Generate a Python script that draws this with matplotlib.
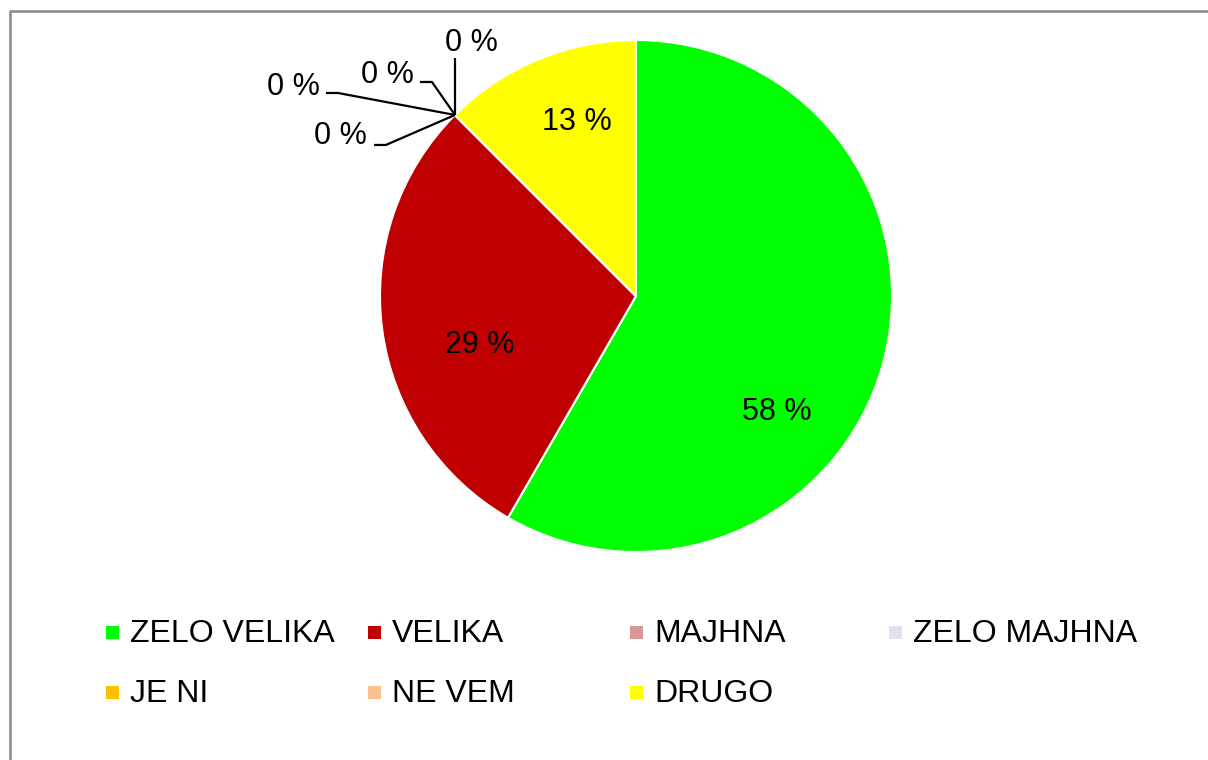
import matplotlib.pyplot as plt
import numpy as np
from matplotlib.patches import Rectangle
from matplotlib.lines import Line2D

plt.rcParams['font.family'] = ['Liberation Sans', 'DejaVu Sans']

# Podatki
kategorije = ['ZELO VELIKA', 'VELIKA', 'MAJHNA', 'ZELO MAJHNA', 'JE NI', 'NE VEM', 'DRUGO']
odgovori = [14, 7, 0, 0, 0, 0, 3]
barve = ['#00FF00', '#C00000', '#D99694', '#E6E0EC', '#FFC000', '#FAC090', '#FFFF00']

W, H = 1208, 760
fig = plt.figure(figsize=(W / 100, H / 100), dpi=100)

# okvir grafikona
fig.add_artist(Line2D([9.5 / W, 9.5 / W, 1], [0, 1 - 10.5 / H, 1 - 10.5 / H],
                      transform=fig.transFigure, color='#8c8c8c', lw=1.9))

cx, cy, r = 636, 296, 256
ax = fig.add_axes([(cx - r) / W, (H - cy - r) / H, 2 * r / W, 2 * r / H])
wedges, _ = ax.pie(odgovori, colors=barve, startangle=90, counterclock=False,
                   radius=1, wedgeprops=dict(edgecolor='white', linewidth=1.5))
ax.set_xlim(-1, 1)
ax.set_ylim(-1, 1)
ax.set_aspect('equal')
ax.axis('off')

skupaj = sum(odgovori)
odstotki = [f"{round(v / skupaj * 100 + 1e-9)} %" for v in odgovori]
dy = 0.012  # popravek navpične poravnave besedila

# oznake znotraj kolača (x, y v enotah polmera)
notranje = {0: (0.55, -0.44), 1: (-0.61, -0.18), 6: (-0.23, 0.69)}
for i, (x, y) in notranje.items():
    ax.text(x, y - dy, odstotki[i], ha='center', va='center', fontsize=22, color='black')

# oznake za 0 % s povezovalnimi črtami
w = wedges[1]
kot = np.deg2rad(min(w.theta1, w.theta2))
ax_x, ax_y = np.cos(kot), np.sin(kot)
# (koleno, konec črte, položaj besedila, poravnava)
crte = [
    ((-0.977, 0.590), (-1.023, 0.590), (-1.051, 0.637), 'right'),
    ((-1.164, 0.793), (-1.211, 0.793), (-1.234, 0.828), 'right'),
    ((-0.797, 0.836), (-0.844, 0.836), (-0.867, 0.875), 'right'),
    ((ax_x, 0.93), (ax_x, 0.93), (-0.642, 1.0), 'center'),
]
for (k, e, t, ha), i in zip(crte, [2, 3, 4, 5]):
    ax.plot([ax_x, k[0], e[0]], [ax_y, k[1], e[1]], color='black', lw=1.6,
            clip_on=False, solid_capstyle='butt')
    ax.text(t[0], t[1] - dy, odstotki[i], ha=ha, va='center', fontsize=22, color='black')

# legenda
stolpci = [106, 368, 630, 889]
vrstice = [632, 692]
for n, (ime, barva) in enumerate(zip(kategorije, barve)):
    px = stolpci[n % 4]
    py = vrstice[n // 4]
    fig.add_artist(Rectangle((px / W, (H - py - 6.5) / H), 13 / W, 13 / H,
                             transform=fig.transFigure, facecolor=barva, edgecolor='none'))
    fig.text((px + 24) / W, (H - py - 2.5) / H, ime, ha='left', va='center', fontsize=23)

fig.savefig('out.png', dpi=100)
